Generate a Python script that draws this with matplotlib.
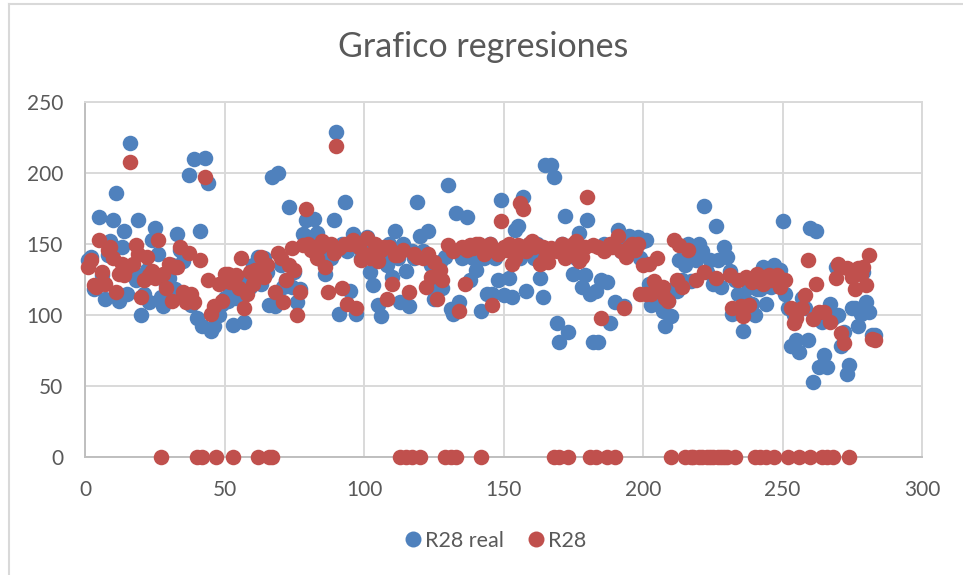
import matplotlib
matplotlib.use("Agg")
import matplotlib.pyplot as plt
from matplotlib.lines import Line2D

# Observation index 1..283
x_index = list(range(1, 284))

r28_real = [
    139, 141, 118, 120, 169, 128, 111, 142, 152, 167,
    186, 110, 148, 159, 115, 221, 130, 125, 167, 100,
    115, 132, 109, 153, 161, 143, 113, 106, 121, 126,
    135, 118, 157, 146, 138, 112, 199, 107, 210, 98,
    159, 92, 211, 193, 89, 92, 101, 100, 108, 112,
    110, 118, 93, 112, 112, 118, 95, 125, 120, 135,
    128, 141, 122, 140, 130, 107, 197, 106, 200, 135,
    120, 125, 176, 120, 130, 109, 118, 157, 167, 155,
    150, 168, 158, 150, 139, 129, 145, 140, 167, 229,
    101, 150, 180, 145, 117, 157, 101, 150, 140, 146,
    155, 130, 121, 140, 107, 99, 145, 135, 150, 127,
    159, 140, 109, 150, 131, 106, 145, 140, 180, 156,
    145, 140, 159, 135, 111, 120, 137, 119, 141, 192,
    104, 101, 172, 109, 140, 145, 169, 125, 140, 132,
    146, 103, 140, 115, 150, 115, 140, 125, 181, 114,
    148, 126, 113, 160, 163, 140, 183, 117, 150, 148,
    140, 150, 126, 113, 206, 145, 206, 197, 94, 81,
    150, 170, 88, 145, 129, 140, 158, 120, 128, 167,
    115, 81, 117, 81, 125, 150, 123, 94, 150, 109,
    160, 145, 106, 150, 156, 150, 145, 155, 140, 152,
    153, 122, 107, 110, 120, 115, 103, 92, 110, 99,
    118, 117, 139, 125, 135, 150, 124, 140, 139, 150,
    145, 177, 130, 139, 122, 163, 139, 120, 148, 141,
    131, 101, 125, 115, 105, 89, 110, 120, 108, 100,
    118, 118, 134, 108, 128, 120, 135, 128, 132, 166,
    115, 105, 78, 100, 82, 74, 112, 105, 82, 161,
    53, 159, 63, 95, 72, 63, 108, 98, 134, 100,
    78, 88, 58, 65, 105, 105, 92, 101, 130, 109,
    102, 86, 86,
]

r28 = [
    134, 139, 121, 120, 153, 130, 122, 146, 148, 140,
    116, 129, 136, 128, 134, 208, 136, 149, 143, 113,
    125, 141, 128, 131, 126, 153, 0, 129, 119, 136,
    110, 134, 134, 148, 116, 109, 144, 115, 109, 0,
    139, 0, 197, 125, 101, 106, 0, 122, 110, 129,
    129, 123, 0, 128, 119, 140, 105, 115, 130, 122,
    132, 0, 141, 127, 135, 0, 0, 116, 144, 140,
    109, 125, 135, 147, 132, 100, 116, 149, 175, 150,
    146, 145, 140, 148, 152, 134, 116, 150, 144, 219,
    147, 119, 150, 108, 150, 153, 105, 148, 139, 143,
    154, 140, 144, 150, 138, 146, 148, 111, 148, 122,
    142, 142, 0, 146, 0, 116, 0, 143, 141, 0,
    140, 120, 143, 127, 137, 111, 132, 125, 0, 149,
    0, 145, 0, 103, 148, 122, 146, 149, 147, 150,
    150, 0, 143, 148, 150, 107, 145, 143, 166, 148,
    146, 150, 136, 140, 149, 179, 175, 145, 150, 152,
    148, 149, 136, 148, 140, 137, 147, 0, 145, 0,
    150, 140, 0, 145, 150, 152, 138, 141, 148, 183,
    0, 149, 0, 148, 98, 145, 0, 150, 148, 0,
    156, 145, 105, 141, 148, 150, 146, 150, 115, 135,
    115, 136, 115, 124, 140, 118, 120, 112, 110, 0,
    153, 125, 149, 120, 0, 146, 0, 0, 125, 0,
    0, 130, 0, 0, 0, 126, 0, 0, 0, 0,
    128, 105, 0, 125, 106, 99, 127, 107, 123, 0,
    129, 0, 122, 0, 128, 125, 0, 128, 120, 125,
    125, 0, 105, 94, 98, 0, 105, 114, 139, 0,
    97, 122, 102, 0, 102, 0, 95, 0, 126, 136,
    87, 80, 133, 0, 127, 118, 133, 129, 134, 121,
    142, 83, 82,
]

x_ticks = [0, 50, 100, 150, 200, 250, 300]
y_ticks = [0, 50, 100, 150, 200, 250]

BLUE = "#4F81BD"
RED = "#C0504D"
TEXT = "#595959"
GRID = "#D9D9D9"
AXIS = "#BFBFBF"
FONT = ["Lato", "DejaVu Sans"]

plt.rcParams["font.family"] = FONT

fig = plt.figure(figsize=(9.63, 5.75), dpi=100)
ax = fig.add_axes([0.0886, 0.2057, 0.8688, 0.6164])

ax.scatter(x_index, r28_real, s=125, color=BLUE, linewidths=0, zorder=3, clip_on=False)
ax.scatter(x_index, r28, s=125, color=RED, linewidths=0, zorder=4, clip_on=False)

ax.set_xlim(x_ticks[0], x_ticks[-1])
ax.set_ylim(y_ticks[0], y_ticks[-1])
ax.set_xticks(x_ticks)
ax.set_yticks(y_ticks)
ax.set_xticklabels([str(v) for v in x_ticks])
ax.set_yticklabels([str(v) for v in y_ticks])
ax.tick_params(length=0, labelsize=15, labelcolor=TEXT)
ax.tick_params(axis="y", pad=16)
ax.tick_params(axis="x", pad=17)

ax.grid(True, color=GRID, linewidth=1.4, zorder=0)
ax.set_axisbelow(True)
for side in ("top", "right"):
    ax.spines[side].set_color(GRID)
    ax.spines[side].set_linewidth(1.4)
for side in ("left", "bottom"):
    ax.spines[side].set_color(AXIS)
    ax.spines[side].set_linewidth(1.4)

fig.text(0.5016, 1 - 47 / 575, "Grafico regresiones", ha="center", va="center",
         fontsize=24.5, color=TEXT)

handles = [
    Line2D([], [], marker="o", linestyle="none", markersize=11.5, markerfacecolor=BLUE,
           markeredgewidth=0, label="R28 real"),
    Line2D([], [], marker="o", linestyle="none", markersize=11.5, markerfacecolor=RED,
           markeredgewidth=0, label="R28"),
]
fig.legend(handles=handles, loc="center", bbox_to_anchor=(0.513, 1 - 541 / 575),
           ncol=2, frameon=False, fontsize=15.5, labelcolor=TEXT,
           handletextpad=0.05, columnspacing=1.0, handlelength=1.0)

# Chart frame
fig.add_artist(Line2D([9 / 963, 9 / 963], [0, 1 - 4 / 575], color=GRID, linewidth=1.5,
                      transform=fig.transFigure))
fig.add_artist(Line2D([9 / 963, 1], [1 - 4 / 575, 1 - 4 / 575], color=GRID, linewidth=1.5,
                      transform=fig.transFigure))

fig.savefig("out.png", dpi=100)
